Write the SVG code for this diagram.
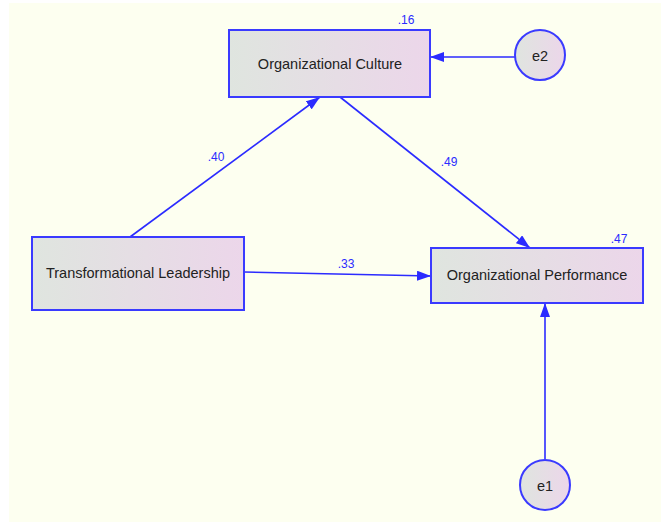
<svg xmlns="http://www.w3.org/2000/svg" width="661" height="522" viewBox="0 0 661 522">
  <style>
    .box { stroke: #3a3aff; stroke-width: 2; fill: url(#nodeFill); }
    .lbl { font-family: "Liberation Sans", Arial, sans-serif; font-size: 14.5px; fill: #222; text-anchor: middle; dominant-baseline: central; }
    .coef { font-family: "Liberation Sans", Arial, sans-serif; font-size: 12px; fill: #2b2bff; text-anchor: middle; }
    .edge { stroke: #2b2bff; stroke-width: 1.6; fill: none; marker-end: url(#arrow); }
  </style>
  <defs>
    <linearGradient id="nodeFill" x1="0" y1="0" x2="1" y2="0">
      <stop offset="0" stop-color="#dfe5df"/>
      <stop offset="1" stop-color="#ecd6ea"/>
    </linearGradient>
    <marker id="arrow" viewBox="0 0 14 10" refX="14" refY="5" markerWidth="14" markerHeight="10" markerUnits="userSpaceOnUse" orient="auto">
      <path d="M0,0 L14,5 L0,10 Z" fill="#2b2bff"/>
    </marker>
  </defs>

  <rect x="0" y="0" width="661" height="522" fill="#ffffff"/>
  <rect x="9" y="3" width="652" height="519" fill="#fdfff0"/>

  <g id="connectors">
    <line class="edge" x1="130" y1="237" x2="320" y2="97"/>
    <line class="edge" x1="340" y1="97" x2="530" y2="248"/>
    <line class="edge" x1="244" y1="272" x2="431" y2="276"/>
    <line class="edge" x1="515" y1="57" x2="430" y2="57"/>
    <line class="edge" x1="545" y1="459" x2="545" y2="303"/>
    <text class="coef" x="216" y="161">.40</text>
    <text class="coef" x="449" y="166">.49</text>
    <text class="coef" x="346" y="268">.33</text>
  </g>

  <g id="culture">
    <rect class="box" x="229" y="30" width="201" height="67"/>
    <text class="lbl" x="330" y="64">Organizational Culture</text>
    <text class="coef" x="406" y="24">.16</text>
  </g>

  <g id="performance">
    <rect class="box" x="431" y="248" width="212" height="55"/>
    <text class="lbl" x="537" y="275">Organizational Performance</text>
    <text class="coef" x="619" y="243">.47</text>
  </g>

  <g id="leadership">
    <rect class="box" x="32" y="237" width="212" height="73"/>
    <text class="lbl" x="138" y="273">Transformational Leadership</text>
  </g>

  <g id="e2">
    <circle class="box" cx="540" cy="55" r="25"/>
    <text class="lbl" x="540" y="56">e2</text>
  </g>

  <g id="e1">
    <circle class="box" cx="545" cy="485" r="25"/>
    <text class="lbl" x="545" y="486">e1</text>
  </g>
</svg>
